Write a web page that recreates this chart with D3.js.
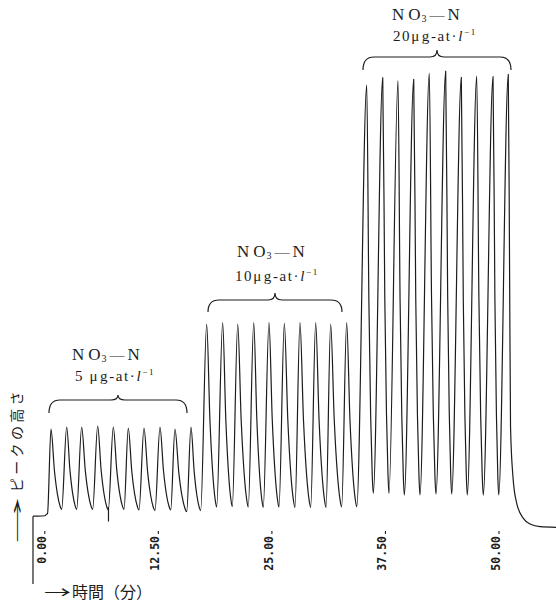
<!DOCTYPE html>
<html><head><meta charset="utf-8">
<script src="https://cdn.jsdelivr.net/npm/d3@7"></script>
<style>html,body{margin:0;padding:0;background:#fff;}svg{display:block;}</style>
</head><body>
<svg id="chart" width="556" height="605"></svg>
<script>
// ---------- data (time in minutes, peak height in chart units) ----------
const tickValues = [0, 12.5, 25, 37.5, 50];
const tickLabels = ["0.00", "12.50", "25.00", "37.50", "50.00"];
const groupConc = ["5 ", "10", "20"];

// initial baseline before first injection
const startTimes   = [-0.86, 0.45, 0.62, 0.74];
const startHeights = [3.0, 3.1, 3.4, 3.6];

// peak maxima
const peakTimes = [
  1.12, 2.85, 4.50, 6.26, 7.98, 9.63, 11.36, 13.12, 14.77, 16.53,
  18.26, 20.02, 21.68, 23.44, 25.12, 26.81, 28.53, 30.26, 31.91, 33.67,
  35.88, 37.64, 39.32, 41.05, 42.77, 44.57, 46.29, 47.99, 49.78, 51.46
];
const peakHeights = [
  21.96, 22.39, 22.39, 22.61, 22.39, 22.17, 22.17, 22.39, 21.96, 22.39,
  44.78, 45.07, 44.78, 45.07, 45.07, 44.93, 45.07, 45.07, 44.78, 45.07,
  96.74, 98.33, 97.67, 97.98, 99.28, 99.78, 98.41, 98.70, 98.54, 99.07
];
// valley minima between consecutive peaks
const valleyTimes = [
  2.30, 3.95, 5.71, 7.43, 9.16, 10.81, 12.57, 14.30, 16.06, 17.60,
  19.36, 21.08, 22.84, 24.49, 26.22, 27.98, 29.71, 31.40, 33.12, 34.78,
  36.60, 38.33, 40.02, 41.74, 43.50, 45.23, 46.95, 48.71, 50.41
];
const valleyHeights = [
  4.50, 4.50, 4.50, 4.35, 4.50, 4.35, 4.20, 4.35, 3.98, 4.20,
  5.00, 5.07, 5.00, 4.93, 5.00, 4.93, 4.93, 4.93, 5.00, 5.07,
  7.98, 7.98, 7.61, 7.61, 7.83, 7.83, 7.61, 7.61, 7.61
];
// return to baseline after the last peak
const tailTimes   = [51.60, 51.71, 51.98, 52.39, 53.12, 53.86, 54.96, 56.72];
const tailHeights = [58.7, 22.4, 11.5, 5.8, 2.54, 1.30, 0.72, 0.59];

// pen glitch (time, upper, lower)
const spikeTime = 7.45, spikeTop = 5.0, spikeBottom = 1.85;

// ---------- layout ----------
const svg = d3.select("#chart");
const x = d3.scaleLinear().domain([0, 50]).range([40.8, 495]);
const y = d3.scaleLinear().domain([0, 100]).range([530, 70]);
const ink = "#1c1c1c";

// decay shape of each peak (fraction of peak->valley time, fraction of height above valley)
const decayShape = [[0.33, 0.47], [0.6, 0.19], [0.84, 0.045]];

// build the trace
const pts = startTimes.map((t, i) => [t, startHeights[i]]);
peakTimes.forEach((pt, i) => {
  const ph = peakHeights[i];
  pts.push([pt, ph]);
  if (i < valleyTimes.length) {
    const vt = valleyTimes[i], vh = valleyHeights[i];
    decayShape.forEach(([f, g]) => pts.push([pt + f * (vt - pt), vh + g * (ph - vh)]));
    pts.push([vt, vh]);
  } else {
    tailTimes.forEach((t, j) => pts.push([t, tailHeights[j]]));
  }
});

const line = d3.line().x(d => x(d[0])).y(d => y(d[1])).curve(d3.curveMonotoneX);
svg.append("path").datum(pts).attr("d", line)
  .attr("fill", "none").attr("stroke", ink).attr("stroke-width", 1.2)
  .attr("stroke-linejoin", "round");

svg.append("line")
  .attr("x1", x(spikeTime)).attr("x2", x(spikeTime))
  .attr("y1", y(spikeTop)).attr("y2", y(spikeBottom))
  .attr("stroke", ink).attr("stroke-width", 1.2);

// vertical start line
svg.append("line")
  .attr("x1", x(startTimes[0])).attr("x2", x(startTimes[0]))
  .attr("y1", y(startHeights[0])).attr("y2", 584)
  .attr("stroke", ink).attr("stroke-width", 1.2);

// time axis (rotated labels)
const axis = d3.axisBottom(x).tickValues(tickValues)
  .tickFormat((d, i) => tickLabels[i]).tickSize(0);
const gx = svg.append("g").attr("transform", "translate(0,531)").call(axis);
gx.select(".domain").remove();
gx.selectAll(".tick line").attr("x1", 3.5).attr("x2", 3.5).attr("y1", 0).attr("y2", 3)
  .attr("stroke", ink).attr("stroke-width", 1.1);
gx.selectAll(".tick text")
  .attr("y", 0).attr("dy", null).attr("x", 0)
  .attr("text-anchor", "end")
  .attr("transform", "translate(4.5,5) rotate(-90)")
  .style("font-family", "'DejaVu Sans Mono', monospace")
  .style("font-weight", "bold")
  .style("font-size", "11.5px")
  .attr("fill", ink);

// axis titles
const yLab = svg.append("g").attr("transform", "rotate(-90)");
yLab.append("text").attr("x", -543).attr("y", 22)
  .attr("textLength", 46).attr("lengthAdjust", "spacingAndGlyphs")
  .style("font-family", "'Noto Sans CJK JP', sans-serif").style("font-size", "14px")
  .attr("fill", ink).text("→");
yLab.append("text").attr("x", -492).attr("y", 22)
  .style("font-family", "'Noto Sans CJK JP', sans-serif").style("font-size", "14px")
  .style("letter-spacing", "3.3px").attr("fill", ink).text("ピークの高さ");

svg.append("text").attr("x", 44).attr("y", 598)
  .attr("textLength", 27).attr("lengthAdjust", "spacingAndGlyphs")
  .style("font-family", "'Noto Sans CJK JP', sans-serif").style("font-size", "16px")
  .attr("fill", ink).text("→");
svg.append("text").attr("x", 72).attr("y", 598)
  .style("font-family", "'Noto Sans CJK JP', sans-serif").style("font-size", "16px")
  .attr("fill", ink).text("時間（分）");

// group annotations
const annot = [
  {bx0: 49, bx1: 187, yEnd: 413, yLine: 400, yCusp: 395, t1x: 72, t1y: 360, t2x: 75, t2y: 381},
  {bx0: 208, bx1: 342, yEnd: 312, yLine: 300, yCusp: 293, t1x: 237, t1y: 257, t2x: 235, t2y: 281},
  {bx0: 363, bx1: 511, yEnd: 70, yLine: 57, yCusp: 50, t1x: 392, t1y: 20, t2x: 393, t2y: 41}
];
function brace(a) {
  const xm = (a.bx0 + a.bx1) / 2, r = 11, r2 = 7, yl = a.yLine;
  return `M${a.bx0},${a.yEnd} Q${a.bx0},${yl} ${a.bx0 + r},${yl} L${xm - r2},${yl} Q${xm},${yl} ${xm},${a.yCusp} Q${xm},${yl} ${xm + r2},${yl} L${a.bx1 - r},${yl} Q${a.bx1},${yl} ${a.bx1},${a.yEnd}`;
}
const serif = "'Liberation Serif', 'Times New Roman', serif";
annot.forEach((a, i) => {
  svg.append("path").attr("d", brace(a)).attr("fill", "none")
    .attr("stroke", ink).attr("stroke-width", 1.2);
  const t1 = svg.append("text").attr("x", a.t1x).attr("y", a.t1y)
    .style("font-family", serif).style("font-size", "17px").attr("fill", ink);
  t1.append("tspan").text("N");
  t1.append("tspan").attr("dx", 4).text("O");
  t1.append("tspan").attr("dx", 1).attr("dy", 2).style("font-size", "10px").text("3");
  t1.append("tspan").attr("dx", 3).attr("dy", -2).style("font-size", "15px").text("—");
  t1.append("tspan").attr("dx", 3).text("N");
  const t2 = svg.append("text").attr("x", a.t2x).attr("y", a.t2y)
    .style("font-family", serif).style("font-size", "15px")
    .style("letter-spacing", "1.6px").attr("fill", ink);
  t2.append("tspan").text(groupConc[i]);
  t2.append("tspan").text("μ");
  t2.append("tspan").attr("dx", 1).text("g-at·");
  t2.append("tspan").style("font-style", "italic").text("l");
  t2.append("tspan").attr("dy", -6).style("font-size", "9px").text("−1");
});
</script>
</body></html>
